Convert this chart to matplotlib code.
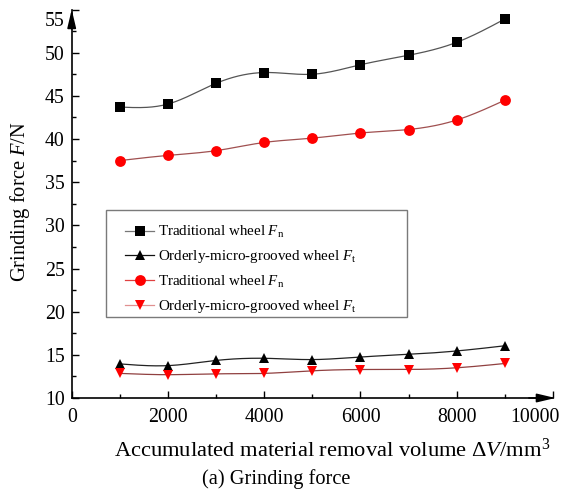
import numpy as np
import matplotlib
matplotlib.use("Agg")
import matplotlib.pyplot as plt
from matplotlib.lines import Line2D
from matplotlib.patches import Rectangle
from matplotlib.transforms import ScaledTranslation

plt.rcParams['font.family'] = ['Liberation Serif', 'DejaVu Serif']
plt.rcParams['mathtext.fontset'] = 'custom'
plt.rcParams['mathtext.rm'] = 'Liberation Serif'
plt.rcParams['mathtext.it'] = 'Liberation Serif:italic'

# ---- data ----
volume = [1000, 2000, 3000, 4000, 5000, 6000, 7000, 8000, 9000]
trad_fn = [43.7, 44.05, 46.45, 47.7, 47.5, 48.6, 49.7, 51.2, 53.9]
groove_ft = [13.95, 13.75, 14.35, 14.6, 14.45, 14.75, 15.05, 15.45, 16.05]
trad_fn2 = [37.5, 38.1, 38.65, 39.6, 40.1, 40.7, 41.1, 42.2, 44.5]
groove_ft2 = [12.85, 12.7, 12.8, 12.85, 13.15, 13.3, 13.3, 13.5, 14.0]
labels = ['Traditional wheel $F_\\mathrm{n}$',
          'Orderly-micro-grooved wheel $F_\\mathrm{t}$',
          'Traditional wheel $F_\\mathrm{n}$',
          'Orderly-micro-grooved wheel $F_\\mathrm{t}$']
xticks = [0, 2000, 4000, 6000, 8000, 10000]
yticks = [10, 15, 20, 25, 30, 35, 40, 45, 50, 55]


def smooth(x, y, n=300):
    x = np.asarray(x, float); y = np.asarray(y, float)
    nn = len(x); h = np.diff(x)
    A = np.zeros((nn, nn)); r = np.zeros(nn)
    A[0, 0] = A[-1, -1] = 1
    for i in range(1, nn - 1):
        A[i, i - 1] = h[i - 1]; A[i, i] = 2 * (h[i - 1] + h[i]); A[i, i + 1] = h[i]
        r[i] = 3 * ((y[i + 1] - y[i]) / h[i] - (y[i] - y[i - 1]) / h[i - 1])
    c = np.linalg.solve(A, r)
    b = (y[1:] - y[:-1]) / h - h * (2 * c[:-1] + c[1:]) / 3
    d = (c[1:] - c[:-1]) / (3 * h)
    xs = np.linspace(x[0], x[-1], n)
    idx = np.clip(np.searchsorted(x, xs) - 1, 0, nn - 2)
    dx = xs - x[idx]
    return xs, y[idx] + b[idx] * dx + c[idx] * dx ** 2 + d[idx] * dx ** 3


W, H = 562, 490
fig = plt.figure(figsize=(W / 100, H / 100), dpi=100)
ax = fig.add_axes([71.7 / W, 1 - 398 / H, (553 - 71.7) / W, (398 - 9.5) / H])

series = [
    (trad_fn, 's', 'black', '#555555', 6.5, '#777777'),
    (groove_ft, '^', 'black', '#222222', 7.5, '#111111'),
    (trad_fn2, 'o', 'red', '#a05050', 7.8, '#e04040'),
    (groove_ft2, 'v', 'red', '#904040', 7.5, '#e09090'),
]
handles = []
for (vals, mk, mc, lc, ms, hlc), lab in zip(series, labels):
    xs, ys = smooth(volume, vals)
    ax.plot(xs, ys, color=lc, lw=0.9, zorder=2)
    ax.plot(volume, vals, linestyle='none', marker=mk, color=mc, markersize=ms,
            markeredgewidth=0, zorder=3)
    handles.append(Line2D([], [], color=hlc, lw=0.9, marker=mk, markerfacecolor=mc,
                          markeredgewidth=0, markersize=ms))

ax.set_xlim(0, 10000)
ax.set_ylim(10, 55)
ax.set_xticks(xticks)
ax.set_yticks(yticks)
ax.set_xticks(np.arange(1000, 10000, 2000), minor=True)
ax.set_yticks(np.arange(12.5, 55, 5), minor=True)
ax.tick_params(which='both', direction='in', width=1.0, colors='black')
ax.tick_params(which='major', length=4.8, labelsize=14.3)
ax.tick_params(axis='x', which='major', pad=7)
ax.tick_params(axis='y', which='major', pad=5)
ax.tick_params(which='minor', length=2.6)
for s in ['top', 'right']:
    ax.spines[s].set_visible(False)
for s in ['left', 'bottom']:
    ax.spines[s].set_linewidth(1.2)

fig.canvas.draw()
for t in ax.get_yticklabels():
    if t.get_text() == '55':
        t.set_transform(t.get_transform() + ScaledTranslation(0, -9.5 / 100, fig.dpi_scale_trans))
for t in ax.get_xticklabels():
    if t.get_text() == '10000':
        t.set_transform(t.get_transform() + ScaledTranslation(-18 / 100, 0, fig.dpi_scale_trans))

# axis arrows
ax.annotate('', xy=(0, 1.0), xytext=(0, 0.95), xycoords='axes fraction',
            arrowprops=dict(arrowstyle='-|>,head_length=1.1,head_width=0.26',
                            mutation_scale=10, color='black', lw=1.2,
                            shrinkA=0, shrinkB=0))
ax.annotate('', xy=(1.005, 0), xytext=(0.95, 0), xycoords='axes fraction',
            arrowprops=dict(arrowstyle='-|>,head_length=1.1,head_width=0.26',
                            mutation_scale=10, color='black', lw=1.2,
                            shrinkA=0, shrinkB=0), annotation_clip=False)

# legend
leg = fig.legend(handles=handles, labels=labels, loc='upper left',
                 bbox_to_anchor=(125 / W, 1 - 224 / H), frameon=False,
                 fontsize=10.8, handlelength=1.95, handletextpad=0.25,
                 borderpad=0, borderaxespad=0, labelspacing=0.55)
fig.patches.append(Rectangle((106 / W, 1 - 317 / H), (407 - 106) / W, (317 - 210) / H,
                             transform=fig.transFigure, fill=False,
                             edgecolor='#7a7a7a', lw=1.0))

fig.text(20 / W, 1 - 202 / H, 'Grinding force $F$/N', rotation=90,
         ha='center', va='center', fontsize=14.8)
fig.text(332 / W, 1 - 450 / H, 'Accumulated material removal volume $\\Delta V$/mm$^3$',
         ha='center', va='center', fontsize=16.2)
fig.text(276 / W, 1 - 479 / H, '(a) Grinding force', ha='center', va='center', fontsize=14.7)

fig.savefig('out.png', dpi=100)
